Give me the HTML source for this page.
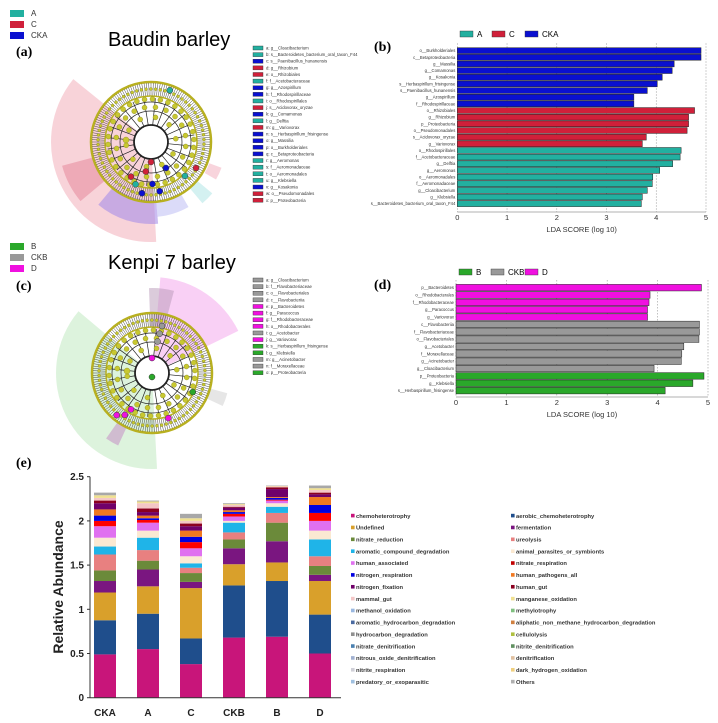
<!DOCTYPE html>
<html><head><meta charset="utf-8">
<style>
html,body{margin:0;padding:0;background:#fff;}
svg{display:block;font-family:"Liberation Sans",sans-serif;}
.ser{font-family:"Liberation Serif",serif;font-weight:bold;}
</style></head>
<body>
<svg id="fig" width="718" height="723" viewBox="0 0 718 723" xmlns="http://www.w3.org/2000/svg">
<g id="panelA"></g>
<g id="panelC"></g>
<g id="panelB"></g>
<g id="panelD"></g>
<g id="panelE"></g>
<text x="108" y="46" font-size="20">Baudin barley</text>
<text x="108" y="269" font-size="20">Kenpi 7 barley</text>
<text class="ser" x="16" y="56" font-size="14">(a)</text>
<text class="ser" x="374" y="51" font-size="14">(b)</text>
<text class="ser" x="16" y="290" font-size="14">(c)</text>
<text class="ser" x="374" y="289" font-size="14">(d)</text>
<text class="ser" x="16" y="467" font-size="14">(e)</text>
</svg>
<script>
const NS="http://www.w3.org/2000/svg";
// ---------- LDA data (b) ----------
const bLabels=["o__Burkholderiales","c__Betaproteobacteria","g__Massilia","g__Comamonas","g__Kosakonia","s__Herbaspirillum_frisingense","s__Paenibacillus_hunanensis","g__Azospirillum","f__Rhodospirillaceae","o__Rhizobiales","g__Rhizobium","p__Proteobacteria","o__Pseudomonadales","s__Acidovorax_oryzae","g__Variovorax","o__Rhodospirillales","f__Acetobacteraceae","g__Delftia","g__Aeromonas","o__Aeromonadales","f__Aeromonadaceae","g__Cloacibacterium","g__Klebsiella","s__Bacteroidetes_bacterium_oral_taxon_F44"];
const bGroups=["CKA","CKA","CKA","CKA","CKA","CKA","CKA","CKA","CKA","C","C","C","C","C","C","A","A","A","A","A","A","A","A","A"];
const bValues=[4.9,4.9,4.36,4.32,4.12,4.02,3.82,3.55,3.55,4.77,4.65,4.65,4.62,3.8,3.72,4.5,4.48,4.33,4.07,3.93,3.92,3.82,3.72,3.7];
// ---------- LDA data (d) ----------
const dLabels=["p__Bacteroidetes","o__Rhodobacterales","f__Rhodobacteraceae","g__Paracoccus","g__Variovorax","c__Flavobacteriia","f__Flavobacteriaceae","o__Flavobacteriales","g__Acetobacter","f__Moraxellaceae","g__Acinetobacter","g__Cloacibacterium","p__Proteobacteria","g__Klebsiella","s__Herbaspirillum_frisingense"];
const dGroups=["D","D","D","D","D","CKB","CKB","CKB","CKB","CKB","CKB","CKB","B","B","B"];
const dValues=[4.87,3.85,3.83,3.8,3.8,4.83,4.83,4.82,4.52,4.48,4.47,3.93,4.92,4.7,4.15];
const ldaTicks=[0,1,2,3,4,5];
// ---------- Abundance (e) ----------
const samples=["CKA","A","C","CKB","B","D"];
const yTicks=[0,0.5,1,1.5,2,2.5];
const yTickLabels=["0","0.5","1","1.5","2","2.5"];
const chemoheterotrophy=[0.49,0.55,0.38,0.68,0.69,0.50];
const aerobicChemo=[0.386,0.40,0.29,0.59,0.63,0.44];
const undefinedF=[0.314,0.31,0.57,0.24,0.21,0.38];
const fermentation=[0.13,0.19,0.07,0.18,0.24,0.07];
const nitrateReduction=[0.12,0.10,0.10,0.10,0.21,0.10];
const ureolysis=[0.18,0.12,0.06,0.08,0.11,0.11];
const aromaticComp=[0.09,0.14,0.05,0.11,0.07,0.19];
const animalParasites=[0.10,0.08,0.08,0.02,0.04,0.10];
const humanAssoc=[0.13,0.09,0.09,0.05,0.03,0.11];
const nitrateResp=[0.06,0.03,0.07,0.03,0.01,0.09];
const nitrogenResp=[0.06,0.02,0.06,0.02,0.02,0.09];
const humanPath=[0.07,0.03,0.07,0.02,0.01,0.09];
const nitrogenFix=[0.07,0.04,0.05,0.03,0.09,0.03];
const humanGut=[0.03,0.04,0.03,0.01,0.02,0.02];
const mammalGut=[0.03,0.06,0.03,0.02,0.01,0.03];
const manganeseOx=[0.03,0.02,0.03,0.01,0.005,0.02];
const othersF=[0.03,0.01,0.05,0.01,0.005,0.03];
const seriesList=[chemoheterotrophy,aerobicChemo,undefinedF,fermentation,nitrateReduction,ureolysis,aromaticComp,animalParasites,humanAssoc,nitrateResp,nitrogenResp,humanPath,nitrogenFix,humanGut,mammalGut,manganeseOx,othersF];
const seriesColors=["#c8157a","#1f4e8c","#d9a02b","#7a1680","#6b8a3a","#e88080","#1fb4e8","#fbe9d2","#e070f0","#ff0000","#0000e0","#f07820","#70006a","#8b0020","#f4c6c6","#f0e090","#a8a8a8"];
const legendNames=["chemoheterotrophy","aerobic_chemoheterotrophy","Undefined","fermentation","nitrate_reduction","ureolysis","aromatic_compound_degradation","animal_parasites_or_symbionts","human_associated","nitrate_respiration","nitrogen_respiration","human_pathogens_all","nitrogen_fixation","human_gut","mammal_gut","manganese_oxidation","methanol_oxidation","methylotrophy","aromatic_hydrocarbon_degradation","aliphatic_non_methane_hydrocarbon_degradation","hydrocarbon_degradation","cellulolysis","nitrate_denitrification","nitrite_denitrification","nitrous_oxide_denitrification","denitrification","nitrite_respiration","dark_hydrogen_oxidation","predatory_or_exoparasitic","Others"];
const legendColors=["#c8157a","#1f4e8c","#d9a02b","#7a1680","#6b8a3a","#e88080","#1fb4e8","#fbe9d2","#e070f0","#c00000","#0000e0","#f07820","#70006a","#8b0020","#f4c6c6","#f0e090","#9ab8e0","#80c080","#4a6aa0","#d08040","#909090","#b0c040","#4a80b0","#609060","#a0b0d0","#e0c0a0","#d0d0d8","#f0d080","#a0c0e0","#b0b0b0"];
const aLeg=["a: g__Cloacibacterium","b: s__Bacteroidetes_bacterium_oral_taxon_F44","c: s__Paenibacillus_hunanensis","d: g__Rhizobium","e: o__Rhizobiales","f: f__Acetobacteraceae","g: g__Azospirillum","h: f__Rhodospirillaceae","i: o__Rhodospirillales","j: s__Acidovorax_oryzae","k: g__Comamonas","l: g__Delftia","m: g__Variovorax","n: s__Herbaspirillum_frisingense","o: g__Massilia","p: o__Burkholderiales","q: c__Betaproteobacteria","r: g__Aeromonas","s: f__Aeromonadaceae","t: o__Aeromonadales","u: g__Klebsiella","v: g__Kosakonia","w: o__Pseudomonadales","x: p__Proteobacteria"];
const aLegG=["A","A","CKA","C","C","A","CKA","CKA","A","C","CKA","A","C","CKA","CKA","CKA","CKA","A","A","A","A","CKA","C","C"];
const cLeg=["a: g__Cloacibacterium","b: f__Flavobacteriaceae","c: o__Flavobacteriales","d: c__Flavobacteriia","e: p__Bacteroidetes","f: g__Paracoccus","g: f__Rhodobacteraceae","h: o__Rhodobacterales","i: g__Acetobacter","j: g__Variovorax","k: s__Herbaspirillum_frisingense","l: g__Klebsiella","m: g__Acinetobacter","n: f__Moraxellaceae","o: p__Proteobacteria"];
const cLegG=["CKB","CKB","CKB","CKB","D","D","D","D","CKB","D","B","B","CKB","CKB","B"];
const gCol={A:"#22b0a0",C:"#d0203a",CKA:"#0a10d0",B:"#2aa82a",CKB:"#999999",D:"#f010e0"};

function mk(tag,attrs,parent){const e=document.createElementNS(NS,tag);for(const k in attrs)e.setAttribute(k,attrs[k]);parent.appendChild(e);return e;}

function lda(g,labels,groups,values,x0,x5,top,bot,axisY,legendItems,legendX,legendY){
  const sx=v=>x0+(x5-x0)*v/5;
  const n=labels.length,h=(bot-top)/n;
  legendItems.forEach((it,i)=>{
    const lx=legendX[i];
    const r=mk("rect",{x:lx,y:legendY-3,width:13,height:6,fill:gCol[it],stroke:"#333","stroke-width":0.4},g);
    
    
    const t=mk("text",{x:lx+17,y:legendY+3,"font-size":8},g);t.textContent=it;
    
    
  });
  ldaTicks.forEach(v=>{mk("line",{x1:sx(v),x2:sx(v),y1:top-4,y2:axisY,stroke:"#999","stroke-width":0.6,"stroke-dasharray":"1.5,1.5"},g);});
  values.forEach((v,i)=>{
    const r=mk("rect",{x:sx(0),y:top+i*h+0.4,width:sx(v)-sx(0),height:h-0.8,fill:gCol[groups[i]],stroke:"#222","stroke-width":0.5},g);
    
    
    const t=mk("text",{x:sx(0)-2,y:top+i*h+h/2+1.5,"font-size":4.2,"text-anchor":"end",fill:"#333"},g);t.textContent=labels[i];
    
    
  });
  mk("line",{x1:sx(0),x2:sx(5),y1:axisY,y2:axisY,stroke:"#666","stroke-width":0.6},g);
  ldaTicks.forEach(v=>{const t=mk("text",{x:sx(v),y:axisY+8,"font-size":7.5,"text-anchor":"middle",fill:"#333"},g);t.textContent=v;
    
    });
  const t=mk("text",{x:(sx(0)+sx(5))/2,y:axisY+20,"font-size":7.5,"text-anchor":"middle",fill:"#333"},g);t.textContent="LDA SCORE (log 10)";
  
  
}
lda(document.getElementById("panelB"),bLabels,bGroups,bValues,457.3,706,47.3,207,212,["A","C","CKA"],[460,492,525],34);
lda(document.getElementById("panelD"),dLabels,dGroups,dValues,456,708,284,394.3,397,["B","CKB","D"],[459,491,525],272);

function wedge(g,cx,cy,r0,r1,a0,a1,fill,op){
  const rad=a=>a*Math.PI/180;
  const p=(r,a)=>(cx+r*Math.cos(rad(a))).toFixed(1)+","+(cy+r*Math.sin(rad(a))).toFixed(1);
  const large=(a1-a0)>180?1:0;
  const d="M"+p(r0,a0)+" L"+p(r1,a0)+" A"+r1+","+r1+" 0 "+large+" 1 "+p(r1,a1)+" L"+p(r0,a1)+" A"+r0+","+r0+" 0 "+large+" 0 "+p(r0,a0)+"Z";
  mk("path",{d:d,fill:fill,"fill-opacity":op},g);
}
function clado(g,cx,cy,wedges,nodes,legTexts,legGroups,legTop,groupNames,gy){
  wedges.forEach(w=>wedge(g,cx,cy,w[0],w[1],w[2],w[3],w[4],w[5]));
  mk("circle",{cx:cx,cy:cy,r:60,fill:"none",stroke:"#b8b020","stroke-width":2.5},g);
  for(let i=0;i<160;i++){const a=i*2*Math.PI/160;
    mk("line",{x1:cx+46*Math.cos(a),y1:cy+46*Math.sin(a),x2:cx+59*Math.cos(a),y2:cy+59*Math.sin(a),stroke:"#333","stroke-width":0.45},g);}
  mk("circle",{cx:cx,cy:cy,r:46,fill:"none",stroke:"#b8b020","stroke-width":1.5},g);
  [40,31].forEach(r=>mk("circle",{cx:cx,cy:cy,r:r,fill:"none",stroke:"#222","stroke-width":0.7},g));
  mk("circle",{cx:cx,cy:cy,r:17,fill:"#fff",stroke:"#222","stroke-width":1.8},g);
  for(let i=0;i<24;i++){const a=i*2*Math.PI/24+0.1;
    mk("line",{x1:cx+17*Math.cos(a),y1:cy+17*Math.sin(a),x2:cx+44*Math.cos(a),y2:cy+44*Math.sin(a),stroke:"#222","stroke-width":0.7},g);}
  [[53,70],[43,34],[35,20],[25,10]].forEach(([r,n])=>{for(let i=0;i<n;i++){const a=i*2*Math.PI/n+r;
    mk("circle",{cx:cx+r*Math.cos(a),cy:cy+r*Math.sin(a),r:r>50?1.5:2.5,fill:"#c8c830",stroke:"#888820","stroke-width":0.4},g);}});
  mk("circle",{cx:cx-25,cy:cy-2,r:3,fill:"#c8c830",stroke:"#888820","stroke-width":0.4},g);
  nodes.forEach(n=>{const a=n[1]*Math.PI/180;mk("circle",{cx:cx+n[0]*Math.cos(a),cy:cy+n[0]*Math.sin(a),r:3,fill:gCol[n[2]],stroke:"#333","stroke-width":0.5},g);});
  legTexts.forEach((t,i)=>{const y=legTop+i*6.62;
    const r=mk("rect",{x:253,y:y-2,width:10,height:4,fill:gCol[legGroups[i]],stroke:"#333","stroke-width":0.4},g);
    
    
    const tx=mk("text",{x:266,y:y+1.5,"font-size":4.3,fill:"#333"},g);tx.textContent=t;
    
    });
  groupNames.forEach((gn,i)=>{const y=gy+i*11;
    const r=mk("rect",{x:10,y:y-3,width:14,height:7,fill:gCol[gn]},g);
    
    
    const tx=mk("text",{x:31,y:y+3,"font-size":8,fill:"#333"},g);tx.textContent=gn;
    
    });
}
clado(document.getElementById("panelA"),151,142,
 [[0,100,87,219,"#f6c4cc",0.75],[60,92,140,165,"#e890a0",0.6],[58,82,85,130,"#a890e8",0.6],[60,75,60,85,"#b8b8f4",0.5],[62,75,20,30,"#f4b8c4",0.6],[60,80,40,50,"#b8e8e8",0.6]],
 [[20,90,"C"],[30,60,"CKA"],[30,100,"C"],[40,120,"C"],[45,110,"A"],[52,100,"CKA"],[50,80,"CKA"],[52,30,"C"],[48,45,"A"],[55,-70,"A"],[42,88,"CKA"]],
 aLeg,aLegG,48,["A","C","CKA"],13);
clado(document.getElementById("panelC"),152,373,
 [[0,96,87,220,"#d4f0d4",0.8],[18,96,275,334,"#f8c4f2",0.8],[45,85,268,285,"#b898b8",0.5],[60,80,115,125,"#c898c8",0.6],[60,78,15,25,"#dcdcdc",0.7]],
 [[4,90,"B"],[15,-90,"D"],[32,-80,"CKB"],[40,-79,"CKB"],[48,-78,"CKB"],[42,120,"D"],[50,123,"D"],[55,130,"D"],[48,70,"D"],[45,25,"B"]],
 cLeg,cLegG,280,["B","CKB","D"],246);

(function(){
  const g=document.getElementById("panelE");
  const y0=697.7,ppu=88.4,x0=90,step=43,bw=22;
  const sy=v=>y0-v*ppu;
  const sxc=i=>x0+15+i*step;
  samples.forEach((s,i)=>{
    let cum=0;
    seriesList.forEach((ser,k)=>{
      const v=ser[i];
      const r=mk("rect",{x:sxc(i)-bw/2,y:sy(cum+v),width:bw,height:v*ppu,fill:seriesColors[k]},g);
      
      
      cum+=v;
    });
    const t=mk("text",{x:sxc(i),y:716,"font-size":10,"font-weight":"bold","text-anchor":"middle",fill:"#222"},g);t.textContent=s;
    
    
  });
  mk("line",{x1:x0,x2:x0,y1:sy(2.5),y2:y0,stroke:"#333","stroke-width":1},g);
  mk("line",{x1:x0,x2:341,y1:y0,y2:y0,stroke:"#333","stroke-width":1},g);
  yTicks.forEach((v,i)=>{mk("line",{x1:x0-3,x2:x0,y1:sy(v),y2:sy(v),stroke:"#333"},g);
    const t=mk("text",{x:x0-6,y:sy(v)+3.5,"font-size":10,"font-weight":"bold","text-anchor":"end",fill:"#222"},g);t.textContent=yTickLabels[i];
    
    });
  const yt=mk("text",{x:0,y:0,"font-size":14,"font-weight":"bold","text-anchor":"middle",fill:"#222",transform:"translate(63,587) rotate(-90)"},g);yt.textContent="Relative Abundance";
  
  
  legendNames.forEach((nm,i)=>{
    const col=i%2,row=Math.floor(i/2);
    const lx=col?511:351,ly=516+row*11.86;
    const r=mk("rect",{x:lx,y:ly-2.2,width:3.6,height:3.6,fill:legendColors[i]},g);
    
    
    const t=mk("text",{x:lx+5,y:ly+1.8,"font-size":5.8,"font-weight":"bold",fill:"#333"},g);t.textContent=nm;
    
    
  });
})();
</script>
</body></html>
